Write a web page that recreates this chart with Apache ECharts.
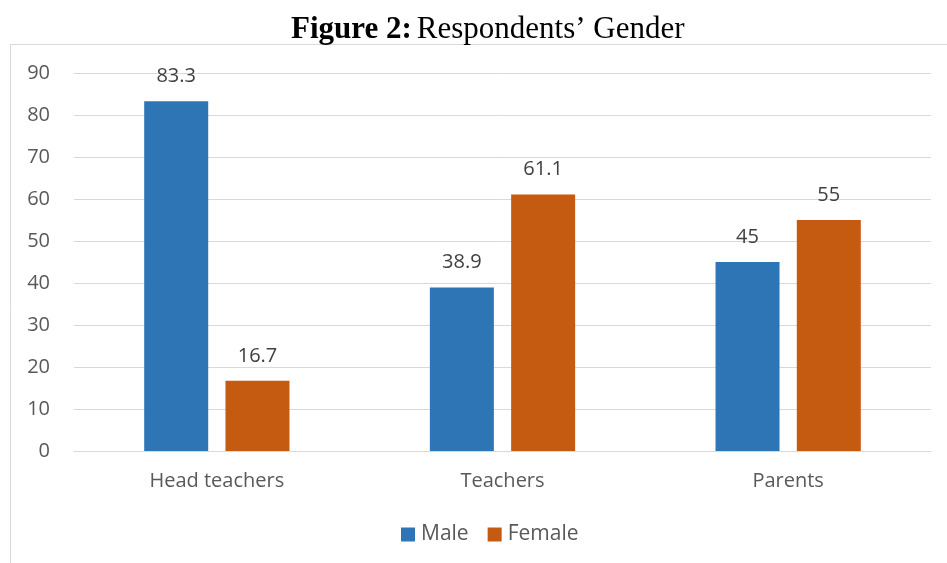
<!DOCTYPE html>
<html>
<head>
<meta charset="utf-8">
<script src="https://cdn.jsdelivr.net/npm/echarts@6/dist/echarts.min.js"></script>
<style>
  html, body { margin: 0; padding: 0; background: #fff; }
  #chart { width: 947px; height: 563px; }
</style>
</head>
<body>
<div id="chart"></div>
<script>
// 数据
var categories = ['Head teachers', 'Teachers', 'Parents'];
var maleValues = [83.3, 38.9, 45];
var femaleValues = [16.7, 61.1, 55];
var yTicks = [0, 10, 20, 30, 40, 50, 60, 70, 80, 90];

var chart = echarts.init(document.getElementById('chart'));

var labelFont = '"Open Sans", "Liberation Sans", sans-serif';

var barLabel = {
  show: true,
  position: 'top',
  distance: 15,
  color: '#404040',
  fontSize: 20,
  fontFamily: labelFont
};

var option = {
  backgroundColor: '#ffffff',
  animation: false,
  title: {
    left: 286,
    top: 9,
    text: '{b|Figure 2:} {n|Respondents\u2019 Gender}',
    textStyle: {
      rich: {
        b: { fontFamily: '"Liberation Serif", serif', fontWeight: 'bold', fontSize: 31, color: '#000' },
        n: { fontFamily: '"Liberation Serif", serif', fontWeight: 'normal', fontSize: 31, color: '#000' }
      }
    }
  },
  graphic: [{
    type: 'rect',
    shape: { x: 10.5, y: 44.5, width: 960, height: 560 },
    style: { fill: 'none', stroke: '#d9d9d9', lineWidth: 1 },
    silent: true
  }],
  legend: {
    bottom: 13,
    left: 396,
    itemWidth: 14,
    itemHeight: 14,
    itemGap: 19,
    icon: 'rect',
    textStyle: { color: '#595959', fontSize: 21, fontFamily: labelFont, padding: [0, 0, 0, 1] },
    data: ['Male', 'Female']
  },
  grid: { left: 74, right: 16, top: 73, bottom: 112, containLabel: false },
  xAxis: {
    type: 'category',
    data: categories,
    axisTick: { show: false },
    axisLine: { lineStyle: { color: '#d9d9d9' } },
    axisLabel: { color: '#595959', fontSize: 20, fontFamily: labelFont, margin: 20 }
  },
  yAxis: {
    type: 'value',
    min: yTicks[0],
    max: yTicks[yTicks.length - 1],
    interval: 10,
    axisLine: { show: false },
    axisTick: { show: false },
    splitLine: { lineStyle: { color: '#d9d9d9' } },
    axisLabel: { color: '#595959', fontSize: 20, fontFamily: labelFont, margin: 24 }
  },
  series: [{
    name: 'Male',
    type: 'bar',
    data: maleValues,
    barWidth: 64,
    barGap: '27%',
    itemStyle: { color: '#2E75B6' },
    label: barLabel
  }, {
    name: 'Female',
    type: 'bar',
    data: femaleValues,
    barWidth: 64,
    itemStyle: { color: '#C55A11' },
    label: barLabel
  }]
};

chart.setOption(option);
</script>
</body>
</html>
